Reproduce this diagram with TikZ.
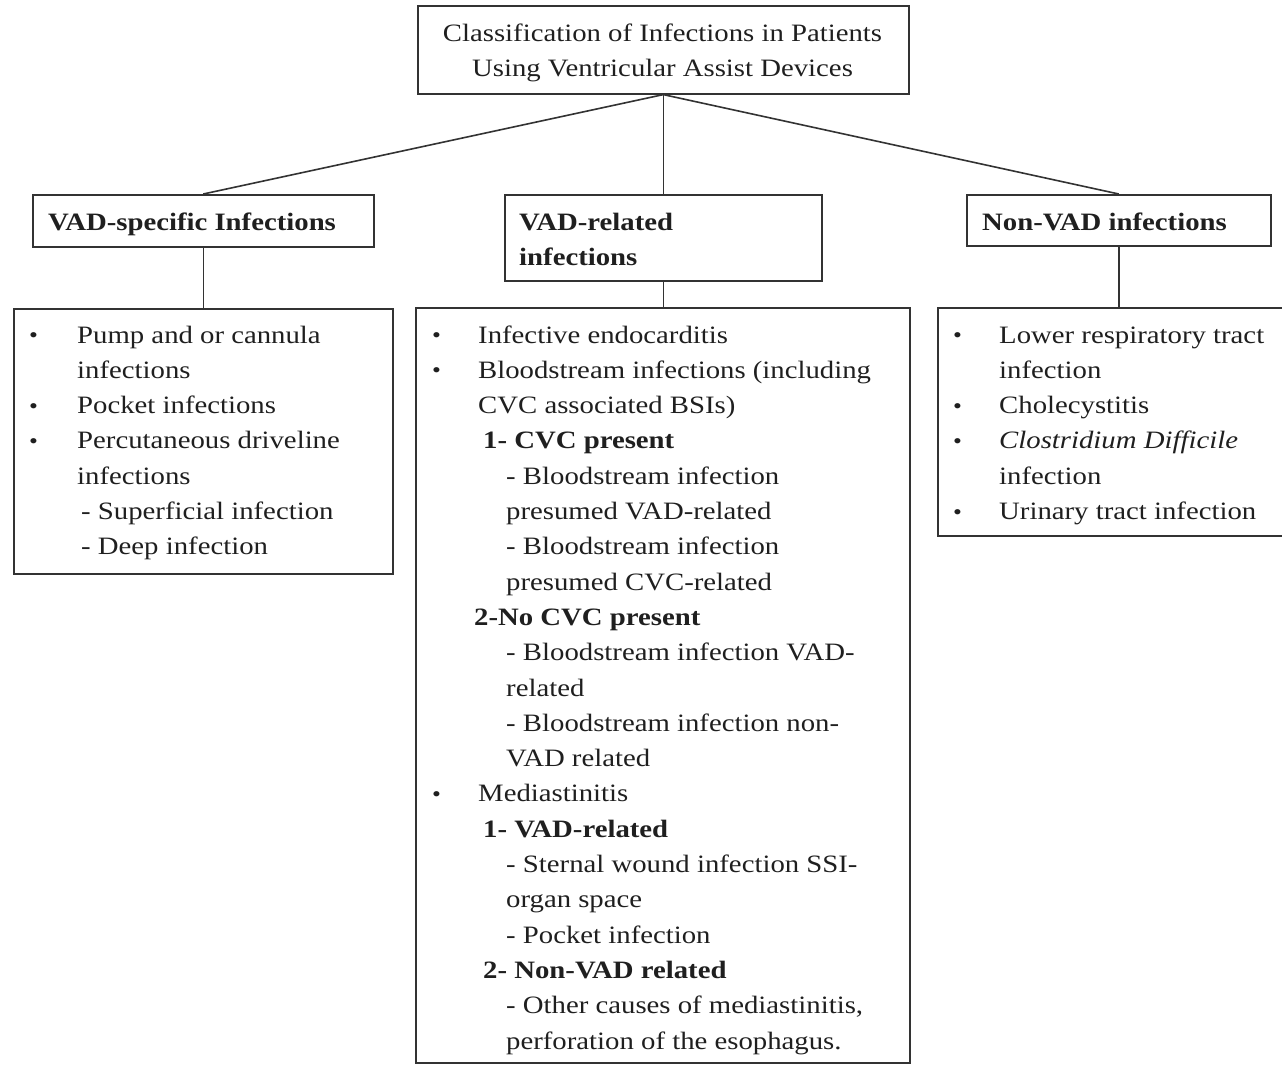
\documentclass[tikz,border=0pt]{standalone}
\usepackage{fontspec}
\setmainfont{Liberation Serif}[FakeStretch=1.15]
\newcommand\myb[2]{\makebox[#1][l]{\raisebox{0.5pt}{\fontsize{22}{22}\selectfont\textbullet}}#2}
\newcommand\myi[1]{\hspace*{#1}}
\begin{document}
\begin{tikzpicture}[x=1pt,y=-1pt,
  box/.style={draw=black!80, line width=1.6pt, inner sep=0pt, anchor=north west},
  link/.style={draw=black!80, line width=1.6pt},
  txt/.style={inner sep=0pt, anchor=base west, text=black!88, font=\fontsize{25}{35.3}\selectfont},
  hdr/.style={txt, font=\fontsize{25}{35}\selectfont\bfseries}]
\useasboundingbox (0,0) rectangle (1282,1066);

% boxes
\node[box, minimum width=491pt, minimum height=88pt] (root) at (417,5) {};
\node[box, minimum width=341pt, minimum height=52pt] (h1) at (32,194) {};
\node[box, minimum width=317pt, minimum height=86pt] (h2) at (504,194) {};
\node[box, minimum width=304pt, minimum height=51pt] (h3) at (966,194) {};
\node[box, minimum width=379pt, minimum height=265pt] (b1) at (13,308) {};
\node[box, minimum width=494pt, minimum height=755pt] (b2) at (415,307) {};
\node[box, minimum width=360pt, minimum height=228pt] (b3) at (937,307) {};

% connectors
\draw[link] (root.south) -- (h1.north);
\draw[link] (root.south) -- (h2.north);
\draw[link] (root.south) -- (h3.north);
\draw[link] (h1.south) -- (h1.south |- b1.north);
\draw[link] (h2.south) -- (h2.south |- b2.north);
\draw[link] (h3.south) -- (h3.south |- b3.north);

% title
\node[txt, anchor=base, font=\fontsize{25}{35.5}\selectfont] (title) at (662.5,41)
  {\parbox[t]{480pt}{\centering Classification of Infections in Patients\\Using Ventricular Assist Devices}};

% headers
\node[hdr] (h1t) at (48,230) {VAD-specific Infections};
\node[hdr] (h2t) at (519,230) {\parbox[t]{290pt}{\raggedright VAD-related\\infections}};
\node[hdr] (h3t) at (982,230) {Non-VAD infections};

% left list
\node[txt] (t1) at (29,343) {\parbox[t]{370pt}{\raggedright
\myb{48pt}{Pump and or cannula}\\
\myi{48pt}infections\\
\myb{48pt}{Pocket infections}\\
\myb{48pt}{Percutaneous driveline}\\
\myi{48pt}infections\\
\myi{52pt}- Superficial infection\\
\myi{52pt}- Deep infection}};

% middle list
\node[txt] (t2) at (432,343) {\parbox[t]{480pt}{\raggedright
\myb{46pt}{Infective endocarditis}\\
\myb{46pt}{Bloodstream infections (including}\\
\myi{46pt}CVC associated BSIs)\\
\myi{51pt}\textbf{1- CVC present}\\
\myi{74pt}- Bloodstream infection\\
\myi{74pt}presumed VAD-related\\
\myi{74pt}- Bloodstream infection\\
\myi{74pt}presumed CVC-related\\
\myi{42pt}\textbf{2-No CVC present}\\
\myi{74pt}- Bloodstream infection VAD-\\
\myi{74pt}related\\
\myi{74pt}- Bloodstream infection non-\\
\myi{74pt}VAD related\\
\myb{46pt}{Mediastinitis}\\
\myi{51pt}\textbf{1- VAD-related}\\
\myi{74pt}- Sternal wound infection SSI-\\
\myi{74pt}organ space\\
\myi{74pt}- Pocket infection\\
\myi{51pt}\textbf{2- Non-VAD related}\\
\myi{74pt}- Other causes of mediastinitis,\\
\myi{74pt}perforation of the esophagus.}};

% right list
\node[txt] (t3) at (953,343) {\parbox[t]{330pt}{\raggedright
\myb{46pt}{Lower respiratory tract}\\
\myi{46pt}infection\\
\myb{46pt}{Cholecystitis}\\
\myb{46pt}{\textit{Clostridium Difficile}}\\
\myi{46pt}infection\\
\myb{46pt}{Urinary tract infection}}};
\end{tikzpicture}
\end{document}
